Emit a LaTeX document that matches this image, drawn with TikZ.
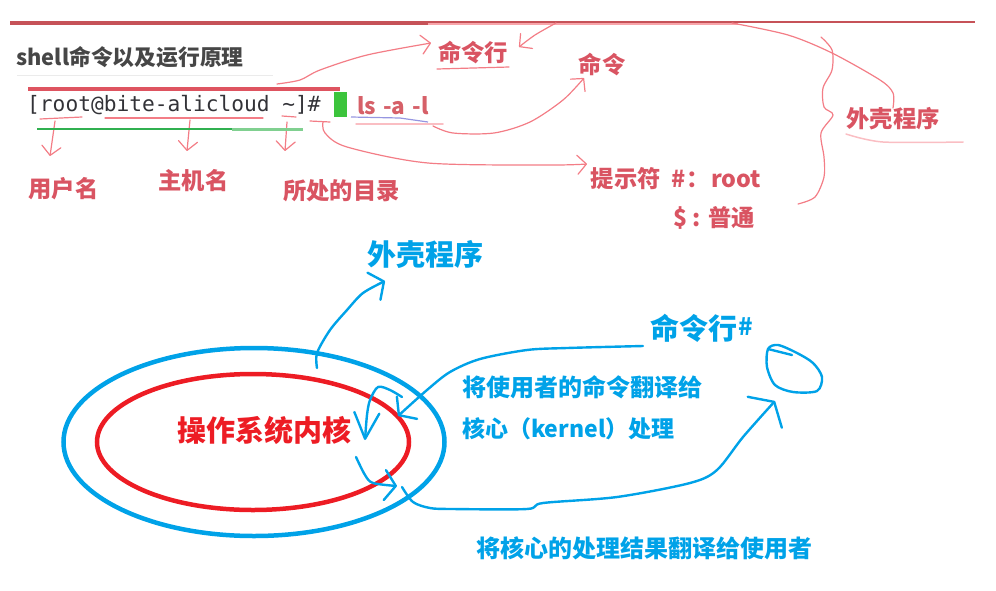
\documentclass[tikz,border=0pt]{standalone}
\usepackage{fontspec}
\setmainfont{Noto Sans CJK SC}
\newfontfamily\termfont{DejaVu Sans Mono}
\usetikzlibrary{arrows.meta,shapes.geometric}
\tikzstyle{lbl}=[text={rgb,255: red,217; green,84; blue,98}, font=\bfseries\fontsize{23.3}{23.3}\selectfont, inner sep=0pt]
\tikzstyle{blbl}=[text={rgb,255: red,0; green,162; blue,232}, font=\bfseries\fontsize{24}{24}\selectfont, inner sep=0pt]
\tikzstyle{bigblbl}=[text={rgb,255: red,0; green,162; blue,232}, font=\bfseries\fontsize{29}{29}\selectfont, inner sep=0pt]
\tikzstyle{redpen}=[draw={rgb,255: red,243; green,125; blue,134}, line width=1.2pt, line cap=round, line join=round]
\tikzstyle{palepen}=[draw={rgb,255: red,250; green,190; blue,195}, line width=1.5pt, line cap=round]
\tikzstyle{bluepen}=[draw={rgb,255: red,0; green,162; blue,232}, line width=2.4pt, line cap=round, line join=round]
\tikzstyle{ring}=[shape=ellipse, line width=4.5pt, inner sep=0pt]
\tikzstyle{redtip}=[-{Straight Barb[length=9pt,width=19pt,round]}]
\tikzstyle{bluetip}=[-{Straight Barb[length=11pt,width=30pt,round]}]
\tikzstyle{talltip}=[-{Straight Barb[length=26pt,width=25pt,round]}]
\tikzstyle{widetip}=[-{Straight Barb[length=14pt,width=46pt,round]}]
\begin{document}
\begin{tikzpicture}[x=1pt, y=-1pt]
    \useasboundingbox (0,0) rectangle (996,590);
    \draw [draw={rgb,255: red,198; green,82; blue,88}, line width=3.2pt] (10,23) -- (428,23);
    \draw [draw={rgb,255: red,198; green,82; blue,88}, line width=2pt] (428,22) -- (975,22);
    \draw [draw={rgb,255: red,248; green,165; blue,170}, line width=1.2pt] (428,24) -- (738,24);
    \node [font=\bfseries\fontsize{21.8}{21.8}\selectfont, text={rgb,255: red,70; green,70; blue,70}, inner sep=0pt] (title) at (130,57) {shell命令以及运行原理};
    \draw [draw={rgb,255: red,235; green,235; blue,235}, line width=1pt] (17,75) -- (273,75);
    \draw [draw={rgb,255: red,222; green,84; blue,96}, line width=3.5pt] (28,89) -- (340,89);
    \node [font=\termfont\fontsize{21.2}{21.2}\selectfont, text={rgb,255: red,50; green,50; blue,55}, inner sep=0pt] (prompt) at (174,105) {[root@bite-alicloud \textasciitilde]\#};
    \node [fill={rgb,255: red,60; green,196; blue,60}, minimum width=13pt, minimum height=25pt, inner sep=0pt] (cursor) at (340,104.5) {};
    \node [font=\bfseries\fontsize{22.5}{22.5}\selectfont, text={rgb,255: red,214; green,96; blue,104}, inner sep=0pt] (cmd) at (393,106) {ls\hspace{2pt} -a\hspace{2pt} -l};
    \node [style=lbl] (user) at (63.5,189) {用户名};
    \node [style=lbl] (host) at (193.5,181) {主机名};
    \node [style=lbl] (cwd) at (341.5,191) {所处的目录};
    \node [style=lbl] (cmdline) at (473,53) {命令行};
    \node [style=lbl] (cmdword) at (602,65) {命令};
    \node [style=lbl] (sign) at (676,179) {提示符\hspace{6pt} \#：\hspace{2pt}root};
    \node [style=lbl] (plain) at (714,218) {\$ : 普通};
    \node [style=lbl] (shellname) at (893,119) {外壳程序};
    \node [style=ring, draw={rgb,255: red,0; green,162; blue,232}, minimum width=381pt, minimum height=188pt] (shell) at (254,442) {};
    \node [style=ring, draw={rgb,255: red,237; green,28; blue,36}, minimum width=312pt, minimum height=136pt] (kernel) at (253,442) {};
    \node [style=bigblbl, text={rgb,255: red,237; green,28; blue,36}] (kernelname) at (264,430) {操作系统内核};
    \node [style=bigblbl] (bshell) at (425,254) {外壳程序};
    \node [style=bigblbl] (bcmdline) at (694,328) {命令行};
    \node [text={rgb,255: red,0; green,162; blue,232}, font=\bfseries\fontsize{24}{24}\selectfont, inner sep=0pt] (bhash) at (746,327) {\#};
    \node [style=blbl] (togo) at (582.5,387) {将使用者的命令翻译给};
    \node [style=blbl, font=\bfseries\fontsize{23}{23}\selectfont] (tokern) at (568.5,429) {核心（kernel）处理};
    \node [style=blbl] (back) at (644.5,548) {将核心的处理结果翻译给使用者};
    \coordinate (a0) at (277,84);
    \coordinate (a1) at (431,43);
    \coordinate (b0) at (556,23);
    \coordinate (b1) at (519,47);
    \coordinate (c0) at (433,126);
    \coordinate (c1) at (584,78);
    \coordinate (d0) at (323,122);
    \coordinate (d1) at (587,164);
    \coordinate (e0) at (732,23);
    \coordinate (e1) at (893,108);
    \coordinate (f0) at (821,37);
    \coordinate (f1) at (798,204);
    \coordinate (g0) at (55,121);
    \coordinate (g1) at (50,156);
    \coordinate (h0) at (190,120);
    \coordinate (h1) at (187,151);
    \coordinate (i0) at (287,122);
    \coordinate (i1) at (285,151);
    \draw [style=redpen, style=redtip] plot [smooth] coordinates {(a0) (300,80) (320,70) (367,55) (a1)};
    \draw [style=redpen, style=redtip] plot [smooth] coordinates {(b0) (535,35) (b1)};
    \draw [style=redpen, style=redtip] plot [smooth] coordinates {(c0) (453,133) (494,133) (530,122) (563,100) (c1)};
    \draw [style=redpen, style=redtip] plot [smooth] coordinates {(d0) (325,133) (347,147) (428,163) (549,165) (d1)};
    \draw [style=redpen] plot [smooth] coordinates {(e0) (788,35) (832,53) (880,80) (893,93) (e1)};
    \draw [style=redpen] plot [smooth] coordinates {(f0) (832,50) (832,70) (823,88) (824,107) (833,115) (821,133) (824,157) (824,177) (815,197) (f1)};
    \draw [style=redpen, style=redtip] (g0) -- (g1);
    \draw [style=redpen, style=redtip] (h0) -- (h1);
    \draw [style=redpen, style=redtip] (i0) -- (i1);
    \draw [style=redpen] (40,119) -- (82,117);
    \draw [style=redpen] (105,118) -- (263,118);
    \draw [style=redpen] (282,116) -- (296,117);
    \draw [style=redpen] (310,121) -- (330,122);
    \draw [draw={rgb,255: red,48; green,176; blue,80}, line width=2pt] (37,128.5) -- (232,128.5);
    \draw [draw={rgb,255: red,128; green,208; blue,144}, line width=3pt] (232,129.5) -- (303,129.5);
    \draw [draw={rgb,255: red,150; green,150; blue,225}, line width=1.2pt] (351,117) -- (400,118) -- (428,122);
    \draw [style=palepen] (356,124) -- (443,124);
    \draw [style=redpen] (437,69) -- (509,67);
    \draw [style=palepen] plot [smooth] coordinates {(846,134) (883,142) (963,142)};
    \coordinate (j0) at (317,368);
    \coordinate (j1) at (385,281);
    \coordinate (k0) at (643,346);
    \coordinate (k1) at (398,416);
    \coordinate (m0) at (402,397);
    \coordinate (m1) at (365,440);
    \coordinate (n0) at (356,457);
    \coordinate (n1) at (397,486);
    \coordinate (p0) at (402,487);
    \coordinate (p1) at (775,401);
    \draw [style=bluepen, style=bluetip] plot [smooth] coordinates {(j0) (317,353) (330,330) (347,310) (363,293) (j1)};
    \draw [style=bluepen, style=bluetip] plot [smooth] coordinates {(k0) (567,348) (527,350) (480,359) (450,372) (427,390) (k1)};
    \draw [style=bluepen, style=talltip] plot [smooth] coordinates {(m0) (390,390) (378,387) (370,400) (367,415) (m1)};
    \draw [style=bluepen, style=bluetip] plot [smooth] coordinates {(n0) (365,475) (373,483) (n1)};
    \draw [style=bluepen, style=widetip] plot [smooth] coordinates {(p0) (413,502) (430,508) (452,509) (527,509) (543,503) (617,497) (690,483) (717,470) (743,437) (p1)};
    \draw [style=bluepen] plot [smooth cycle] coordinates {(778,345) (797,353) (813,363) (822,377) (817,391) (793,392) (775,385) (767,367) (768,349)};
    \draw [style=bluepen] (768,349) -- (792,355);
\end{tikzpicture}
\end{document}
